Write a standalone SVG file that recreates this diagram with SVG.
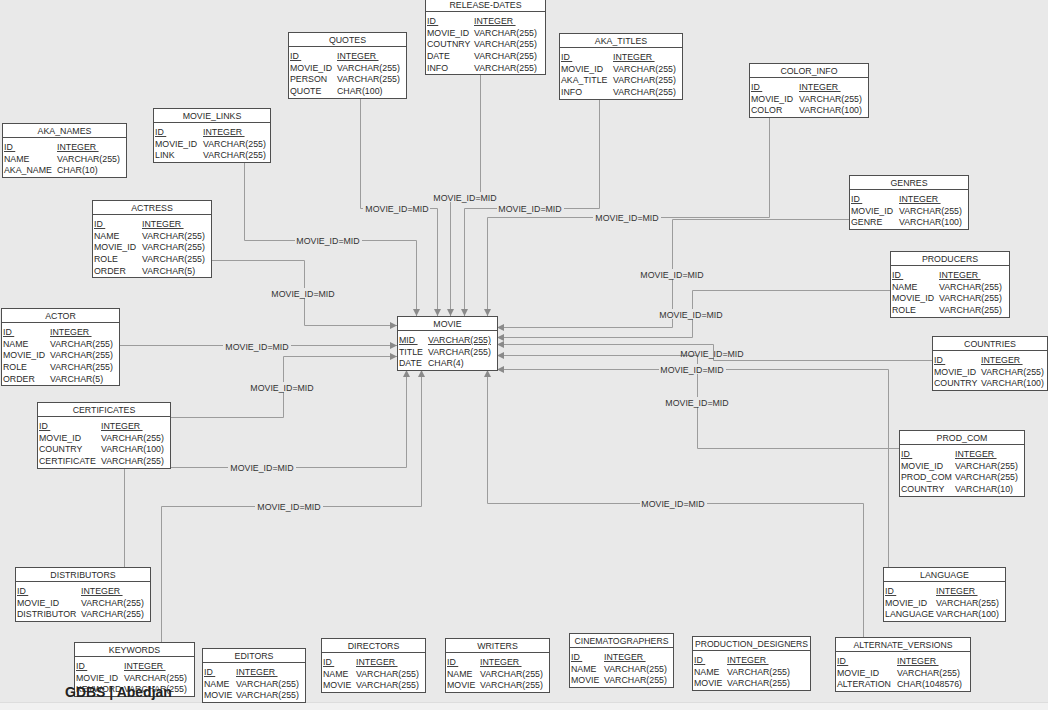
<svg xmlns="http://www.w3.org/2000/svg" width="1048" height="710" viewBox="0 0 1048 710">
<defs>
<style>
.bg{fill:#e9e9e9}
.box{fill:#ffffff;stroke:#4f4f4f;stroke-width:1}
.sep{stroke:#4f4f4f;stroke-width:1}
.t{font-family:"Liberation Sans",Arial,sans-serif;font-size:8.8px;fill:#2a2a2a}
.h{text-anchor:middle}
.u{text-decoration:underline}
.c{fill:none;stroke:#9c9c9c;stroke-width:1}
.lb{font-family:"Liberation Sans",Arial,sans-serif;font-size:8.8px;fill:#333;text-anchor:middle}
.lbg{fill:#e9e9e9}
.wm{font-family:"Liberation Sans",Arial,sans-serif;font-size:14px;font-weight:bold;fill:#222}
</style>
<marker id="ar" markerUnits="userSpaceOnUse" markerWidth="8" markerHeight="8" refX="7" refY="3.5" orient="auto">
<path d="M0,0 L7,3.5 L0,7 z" fill="#8a8a8a"/>
</marker>
</defs>
<rect class="bg" x="0" y="0" width="1048" height="710"/>
<rect x="0" y="702" width="1048" height="8" fill="#f1f1f1"/>
<line x1="0" y1="702.5" x2="1048" y2="702.5" stroke="#dddddd"/>

<g id="connectors">
<path class="c" marker-end="url(#ar)" d="M244.5,162 V240.5 H416.5 V316"/>
<path class="c" marker-end="url(#ar)" d="M360.5,98 V208.5 H437.5 V316"/>
<path class="c" marker-end="url(#ar)" d="M480.5,75 V197.5 H450.5 V316"/>
<path class="c" marker-end="url(#ar)" d="M599.5,99 V208.5 H464.5 V316"/>
<path class="c" marker-end="url(#ar)" d="M769.5,117 V217.5 H487.5 V316"/>
<path class="c" marker-end="url(#ar)" d="M849,219.5 H672.5 V327.5 H497"/>
<path class="c" marker-end="url(#ar)" d="M890,290.5 H692.5 V337.5 H497"/>
<path class="c" marker-end="url(#ar)" d="M932,360.5 H713.5 V344.5 H497"/>
<path class="c" marker-end="url(#ar)" d="M899,448.5 H697.5 V355.5 H497"/>
<path class="c" marker-end="url(#ar)" d="M888.5,567 V369.5 H497"/>
<path class="c" marker-end="url(#ar)" d="M863.5,637 V503.5 H487.5 V370"/>
<path class="c" marker-end="url(#ar)" d="M161.5,642 V506.5 H421.5 V370"/>
<path class="c" marker-end="url(#ar)" d="M170,467.5 H406.5 V370"/>
<path class="c" marker-end="url(#ar)" d="M124.5,567 V417.5 H283.5 V356.5 H397"/>
<path class="c" marker-end="url(#ar)" d="M119,345.5 H397"/>
<path class="c" marker-end="url(#ar)" d="M211,260.5 H304.5 V325.5 H397"/>
<g id="labels">
<rect class="lbg" x="295" y="235" width="67" height="10"/><text class="lb" x="328" y="243.5">MOVIE_ID=MID</text>
<rect class="lbg" x="363" y="203" width="67" height="10"/><text class="lb" x="397" y="211.5">MOVIE_ID=MID</text>
<rect class="lbg" x="431" y="192" width="67" height="10"/><text class="lb" x="465" y="200.5">MOVIE_ID=MID</text>
<rect class="lbg" x="497" y="203" width="67" height="10"/><text class="lb" x="530" y="211.5">MOVIE_ID=MID</text>
<rect class="lbg" x="593" y="212" width="68" height="10"/><text class="lb" x="627" y="220.5">MOVIE_ID=MID</text>
<rect class="lbg" x="638" y="269" width="68" height="10"/><text class="lb" x="672" y="277.5">MOVIE_ID=MID</text>
<rect class="lbg" x="658" y="309" width="67" height="10"/><text class="lb" x="691" y="317.5">MOVIE_ID=MID</text>
<text class="lb" x="712" y="357">MOVIE_ID=MID</text>
<rect class="lbg" x="663" y="397" width="68" height="10"/><text class="lb" x="697" y="405.5">MOVIE_ID=MID</text>
<rect class="lbg" x="659" y="364" width="67" height="10"/><text class="lb" x="692" y="372.5">MOVIE_ID=MID</text>
<rect class="lbg" x="640" y="498" width="67" height="10"/><text class="lb" x="673" y="506.5">MOVIE_ID=MID</text>
<rect class="lbg" x="255" y="501" width="68" height="10"/><text class="lb" x="289" y="509.5">MOVIE_ID=MID</text>
<rect class="lbg" x="228" y="462" width="68" height="10"/><text class="lb" x="262" y="470.5">MOVIE_ID=MID</text>
<rect class="lbg" x="248" y="382" width="68" height="10"/><text class="lb" x="282" y="390.5">MOVIE_ID=MID</text>
<rect class="lbg" x="223" y="341" width="68" height="10"/><text class="lb" x="257" y="349.5">MOVIE_ID=MID</text>
<rect class="lbg" x="269" y="288" width="68" height="10"/><text class="lb" x="303" y="296.5">MOVIE_ID=MID</text>
</g>
</g>

<g id="aka_names">
<rect class="box" x="2.5" y="123.5" width="124" height="54"/>
<line class="sep" x1="2.5" y1="137.5" x2="126.5" y2="137.5"/>
<text class="t h" x="64.5" y="134">AKA_NAMES</text>
<text class="t u" x="4" y="150">ID&#160;</text><text class="t u" x="57" y="150">INTEGER&#160;</text>
<text class="t" x="4" y="161.7">NAME</text><text class="t" x="57" y="161.7">VARCHAR(255)</text>
<text class="t" x="4" y="173.4">AKA_NAME</text><text class="t" x="57" y="173.4">CHAR(10)</text>
</g>

<g id="movie_links">
<rect class="box" x="153.5" y="108.5" width="117" height="54"/>
<line class="sep" x1="153.5" y1="122.5" x2="270.5" y2="122.5"/>
<text class="t h" x="212" y="119">MOVIE_LINKS</text>
<text class="t u" x="155" y="135">ID&#160;</text><text class="t u" x="203" y="135">INTEGER&#160;</text>
<text class="t" x="155" y="146.7">MOVIE_ID</text><text class="t" x="203" y="146.7">VARCHAR(255)</text>
<text class="t" x="155" y="158.4">LINK</text><text class="t" x="203" y="158.4">VARCHAR(255)</text>
</g>

<g id="actress">
<rect class="box" x="92.5" y="200.5" width="119" height="77"/>
<line class="sep" x1="92.5" y1="214.5" x2="211.5" y2="214.5"/>
<text class="t h" x="152" y="211">ACTRESS</text>
<text class="t u" x="94" y="227">ID&#160;</text><text class="t u" x="142" y="227">INTEGER&#160;</text>
<text class="t" x="94" y="238.7">NAME</text><text class="t" x="142" y="238.7">VARCHAR(255)</text>
<text class="t" x="94" y="250.4">MOVIE_ID</text><text class="t" x="142" y="250.4">VARCHAR(255)</text>
<text class="t" x="94" y="262.1">ROLE</text><text class="t" x="142" y="262.1">VARCHAR(255)</text>
<text class="t" x="94" y="273.8">ORDER</text><text class="t" x="142" y="273.8">VARCHAR(5)</text>
</g>

<g id="actor">
<rect class="box" x="1.5" y="308.5" width="118" height="77"/>
<line class="sep" x1="1.5" y1="322.5" x2="119.5" y2="322.5"/>
<text class="t h" x="60.5" y="319">ACTOR</text>
<text class="t u" x="3" y="335">ID&#160;</text><text class="t u" x="50" y="335">INTEGER&#160;</text>
<text class="t" x="3" y="346.7">NAME</text><text class="t" x="50" y="346.7">VARCHAR(255)</text>
<text class="t" x="3" y="358.4">MOVIE_ID</text><text class="t" x="50" y="358.4">VARCHAR(255)</text>
<text class="t" x="3" y="370.1">ROLE</text><text class="t" x="50" y="370.1">VARCHAR(255)</text>
<text class="t" x="3" y="381.8">ORDER</text><text class="t" x="50" y="381.8">VARCHAR(5)</text>
</g>

<g id="certificates">
<rect class="box" x="37.5" y="402.5" width="133" height="66"/>
<line class="sep" x1="37.5" y1="416.5" x2="170.5" y2="416.5"/>
<text class="t h" x="104" y="413">CERTIFICATES</text>
<text class="t u" x="39" y="429">ID&#160;</text><text class="t u" x="101" y="429">INTEGER&#160;</text>
<text class="t" x="39" y="440.7">MOVIE_ID</text><text class="t" x="101" y="440.7">VARCHAR(255)</text>
<text class="t" x="39" y="452.4">COUNTRY</text><text class="t" x="101" y="452.4">VARCHAR(100)</text>
<text class="t" x="39" y="464.1">CERTIFICATE</text><text class="t" x="101" y="464.1">VARCHAR(255)</text>
</g>

<g id="distributors">
<rect class="box" x="15.5" y="567.5" width="135" height="54"/>
<line class="sep" x1="15.5" y1="581.5" x2="150.5" y2="581.5"/>
<text class="t h" x="83" y="578">DISTRIBUTORS</text>
<text class="t u" x="17" y="594">ID&#160;</text><text class="t u" x="81" y="594">INTEGER&#160;</text>
<text class="t" x="17" y="605.7">MOVIE_ID</text><text class="t" x="81" y="605.7">VARCHAR(255)</text>
<text class="t" x="17" y="617.4">DISTRIBUTOR</text><text class="t" x="81" y="617.4">VARCHAR(255)</text>
</g>

<g id="keywords">
<rect class="box" x="74.5" y="642.5" width="120" height="54"/>
<line class="sep" x1="74.5" y1="656.5" x2="194.5" y2="656.5"/>
<text class="t h" x="134.5" y="653">KEYWORDS</text>
<text class="t u" x="76" y="669">ID&#160;</text><text class="t u" x="124" y="669">INTEGER&#160;</text>
<text class="t" x="76" y="680.7">MOVIE_ID</text><text class="t" x="124" y="680.7">VARCHAR(255)</text>
<text class="t" x="76" y="692.4">KEYWORD</text><text class="t" x="124" y="692.4">VARCHAR(255)</text>
</g>

<g id="editors">
<rect class="box" x="202.5" y="648.5" width="103" height="54"/>
<line class="sep" x1="202.5" y1="662.5" x2="305.5" y2="662.5"/>
<text class="t h" x="254" y="659">EDITORS</text>
<text class="t u" x="204" y="675">ID&#160;</text><text class="t u" x="236" y="675">INTEGER&#160;</text>
<text class="t" x="204" y="686.7">NAME</text><text class="t" x="236" y="686.7">VARCHAR(255)</text>
<text class="t" x="204" y="698.4">MOVIE</text><text class="t" x="236" y="698.4">VARCHAR(255)</text>
</g>

<g id="directors">
<rect class="box" x="321.5" y="638.5" width="104" height="54"/>
<line class="sep" x1="321.5" y1="652.5" x2="425.5" y2="652.5"/>
<text class="t h" x="373.5" y="649">DIRECTORS</text>
<text class="t u" x="323" y="665">ID&#160;</text><text class="t u" x="356" y="665">INTEGER&#160;</text>
<text class="t" x="323" y="676.7">NAME</text><text class="t" x="356" y="676.7">VARCHAR(255)</text>
<text class="t" x="323" y="688.4">MOVIE</text><text class="t" x="356" y="688.4">VARCHAR(255)</text>
</g>

<g id="writers">
<rect class="box" x="445.5" y="638.5" width="104" height="54"/>
<line class="sep" x1="445.5" y1="652.5" x2="549.5" y2="652.5"/>
<text class="t h" x="497.5" y="649">WRITERS</text>
<text class="t u" x="447" y="665">ID&#160;</text><text class="t u" x="480" y="665">INTEGER&#160;</text>
<text class="t" x="447" y="676.7">NAME</text><text class="t" x="480" y="676.7">VARCHAR(255)</text>
<text class="t" x="447" y="688.4">MOVIE</text><text class="t" x="480" y="688.4">VARCHAR(255)</text>
</g>

<g id="cinematographers">
<rect class="box" x="569.5" y="633.5" width="104" height="54"/>
<line class="sep" x1="569.5" y1="647.5" x2="673.5" y2="647.5"/>
<text class="t h" x="621.5" y="644" textLength="94" lengthAdjust="spacingAndGlyphs">CINEMATOGRAPHERS</text>
<text class="t u" x="571" y="660">ID&#160;</text><text class="t u" x="604" y="660">INTEGER&#160;</text>
<text class="t" x="571" y="671.7">NAME</text><text class="t" x="604" y="671.7">VARCHAR(255)</text>
<text class="t" x="571" y="683.4">MOVIE</text><text class="t" x="604" y="683.4">VARCHAR(255)</text>
</g>

<g id="production_designers">
<rect class="box" x="692.5" y="636.5" width="118" height="54"/>
<line class="sep" x1="692.5" y1="650.5" x2="810.5" y2="650.5"/>
<text class="t h" x="751.5" y="647" textLength="113" lengthAdjust="spacingAndGlyphs">PRODUCTION_DESIGNERS</text>
<text class="t u" x="694" y="663">ID&#160;</text><text class="t u" x="727" y="663">INTEGER&#160;</text>
<text class="t" x="694" y="674.7">NAME</text><text class="t" x="727" y="674.7">VARCHAR(255)</text>
<text class="t" x="694" y="686.4">MOVIE</text><text class="t" x="727" y="686.4">VARCHAR(255)</text>
</g>

<g id="alternate_versions">
<rect class="box" x="835.5" y="637.5" width="135" height="54"/>
<line class="sep" x1="835.5" y1="651.5" x2="970.5" y2="651.5"/>
<text class="t h" x="903" y="648" textLength="99" lengthAdjust="spacingAndGlyphs">ALTERNATE_VERSIONS</text>
<text class="t u" x="837" y="664">ID&#160;</text><text class="t u" x="897" y="664">INTEGER&#160;</text>
<text class="t" x="837" y="675.7">MOVIE_ID</text><text class="t" x="897" y="675.7">VARCHAR(255)</text>
<text class="t" x="837" y="687.4">ALTERATION</text><text class="t" x="897" y="687.4">CHAR(1048576)</text>
</g>

<g id="language">
<rect class="box" x="883.5" y="567.5" width="122" height="54"/>
<line class="sep" x1="883.5" y1="581.5" x2="1005.5" y2="581.5"/>
<text class="t h" x="944.5" y="578">LANGUAGE</text>
<text class="t u" x="885" y="594">ID&#160;</text><text class="t u" x="936" y="594">INTEGER&#160;</text>
<text class="t" x="885" y="605.7">MOVIE_ID</text><text class="t" x="936" y="605.7">VARCHAR(255)</text>
<text class="t" x="885" y="617.4">LANGUAGE</text><text class="t" x="936" y="617.4">VARCHAR(100)</text>
</g>

<g id="prod_com">
<rect class="box" x="899.5" y="430.5" width="125" height="66"/>
<line class="sep" x1="899.5" y1="444.5" x2="1024.5" y2="444.5"/>
<text class="t h" x="962" y="441">PROD_COM</text>
<text class="t u" x="901" y="457">ID&#160;</text><text class="t u" x="955" y="457">INTEGER&#160;</text>
<text class="t" x="901" y="468.7">MOVIE_ID</text><text class="t" x="955" y="468.7">VARCHAR(255)</text>
<text class="t" x="901" y="480.4">PROD_COM</text><text class="t" x="955" y="480.4">VARCHAR(255)</text>
<text class="t" x="901" y="492.1">COUNTRY</text><text class="t" x="955" y="492.1">VARCHAR(10)</text>
</g>

<g id="countries">
<rect class="box" x="932.5" y="336.5" width="115" height="54"/>
<line class="sep" x1="932.5" y1="350.5" x2="1047.5" y2="350.5"/>
<text class="t h" x="990" y="347">COUNTRIES</text>
<text class="t u" x="934" y="363">ID&#160;</text><text class="t u" x="981" y="363">INTEGER&#160;</text>
<text class="t" x="934" y="374.7">MOVIE_ID</text><text class="t" x="981" y="374.7">VARCHAR(255)</text>
<text class="t" x="934" y="386.4">COUNTRY</text><text class="t" x="981" y="386.4">VARCHAR(100)</text>
</g>

<g id="producers">
<rect class="box" x="890.5" y="251.5" width="119" height="66"/>
<line class="sep" x1="890.5" y1="265.5" x2="1009.5" y2="265.5"/>
<text class="t h" x="950" y="262">PRODUCERS</text>
<text class="t u" x="892" y="278">ID&#160;</text><text class="t u" x="939" y="278">INTEGER&#160;</text>
<text class="t" x="892" y="289.7">NAME</text><text class="t" x="939" y="289.7">VARCHAR(255)</text>
<text class="t" x="892" y="301.4">MOVIE_ID</text><text class="t" x="939" y="301.4">VARCHAR(255)</text>
<text class="t" x="892" y="313.1">ROLE</text><text class="t" x="939" y="313.1">VARCHAR(255)</text>
</g>

<g id="genres">
<rect class="box" x="849.5" y="175.5" width="119" height="54"/>
<line class="sep" x1="849.5" y1="189.5" x2="968.5" y2="189.5"/>
<text class="t h" x="909" y="186">GENRES</text>
<text class="t u" x="851" y="202">ID&#160;</text><text class="t u" x="899" y="202">INTEGER&#160;</text>
<text class="t" x="851" y="213.7">MOVIE_ID</text><text class="t" x="899" y="213.7">VARCHAR(255)</text>
<text class="t" x="851" y="225.4">GENRE</text><text class="t" x="899" y="225.4">VARCHAR(100)</text>
</g>

<g id="color_info">
<rect class="box" x="749.5" y="63.5" width="119" height="54"/>
<line class="sep" x1="749.5" y1="77.5" x2="868.5" y2="77.5"/>
<text class="t h" x="809" y="74">COLOR_INFO</text>
<text class="t u" x="751" y="90">ID&#160;</text><text class="t u" x="799" y="90">INTEGER&#160;</text>
<text class="t" x="751" y="101.7">MOVIE_ID</text><text class="t" x="799" y="101.7">VARCHAR(255)</text>
<text class="t" x="751" y="113.4">COLOR</text><text class="t" x="799" y="113.4">VARCHAR(100)</text>
</g>

<g id="aka_titles">
<rect class="box" x="559.5" y="33.5" width="123" height="66"/>
<line class="sep" x1="559.5" y1="47.5" x2="682.5" y2="47.5"/>
<text class="t h" x="621" y="44">AKA_TITLES</text>
<text class="t u" x="561" y="60">ID&#160;</text><text class="t u" x="613" y="60">INTEGER&#160;</text>
<text class="t" x="561" y="71.7">MOVIE_ID</text><text class="t" x="613" y="71.7">VARCHAR(255)</text>
<text class="t" x="561" y="83.4">AKA_TITLE</text><text class="t" x="613" y="83.4">VARCHAR(255)</text>
<text class="t" x="561" y="95.1">INFO</text><text class="t" x="613" y="95.1">VARCHAR(255)</text>
</g>

<g id="release_dates">
<rect class="box" x="425.5" y="-2.5" width="120" height="77"/>
<line class="sep" x1="425.5" y1="11.5" x2="545.5" y2="11.5"/>
<text class="t h" x="485.5" y="8">RELEASE-DATES</text>
<text class="t u" x="427" y="24">ID&#160;</text><text class="t u" x="474" y="24">INTEGER&#160;</text>
<text class="t" x="427" y="35.7">MOVIE_ID</text><text class="t" x="474" y="35.7">VARCHAR(255)</text>
<text class="t" x="427" y="47.4">COUTNRY</text><text class="t" x="474" y="47.4">VARCHAR(255)</text>
<text class="t" x="427" y="59.1">DATE</text><text class="t" x="474" y="59.1">VARCHAR(255)</text>
<text class="t" x="427" y="70.8">INFO</text><text class="t" x="474" y="70.8">VARCHAR(255)</text>
</g>

<g id="quotes">
<rect class="box" x="288.5" y="32.5" width="118" height="66"/>
<line class="sep" x1="288.5" y1="46.5" x2="406.5" y2="46.5"/>
<text class="t h" x="347.5" y="43">QUOTES</text>
<text class="t u" x="290" y="59">ID&#160;</text><text class="t u" x="337" y="59">INTEGER&#160;</text>
<text class="t" x="290" y="70.7">MOVIE_ID</text><text class="t" x="337" y="70.7">VARCHAR(255)</text>
<text class="t" x="290" y="82.4">PERSON</text><text class="t" x="337" y="82.4">VARCHAR(255)</text>
<text class="t" x="290" y="94.1">QUOTE</text><text class="t" x="337" y="94.1">CHAR(100)</text>
</g>

<g id="movie">
<rect class="box" x="397.5" y="316.5" width="100" height="54"/>
<line class="sep" x1="397.5" y1="330.5" x2="497.5" y2="330.5"/>
<text class="t h" x="447.5" y="327">MOVIE</text>
<text class="t u" x="399" y="343">MID&#160;</text><text class="t u" x="428" y="343">VARCHAR(255)</text>
<text class="t" x="399" y="354.7">TITLE</text><text class="t" x="428" y="354.7">VARCHAR(255)</text>
<text class="t" x="399" y="366.4">DATE</text><text class="t" x="428" y="366.4">CHAR(4)</text>
</g>

<text class="wm" x="65" y="697">GDBS | Abedjan</text>
</svg>
